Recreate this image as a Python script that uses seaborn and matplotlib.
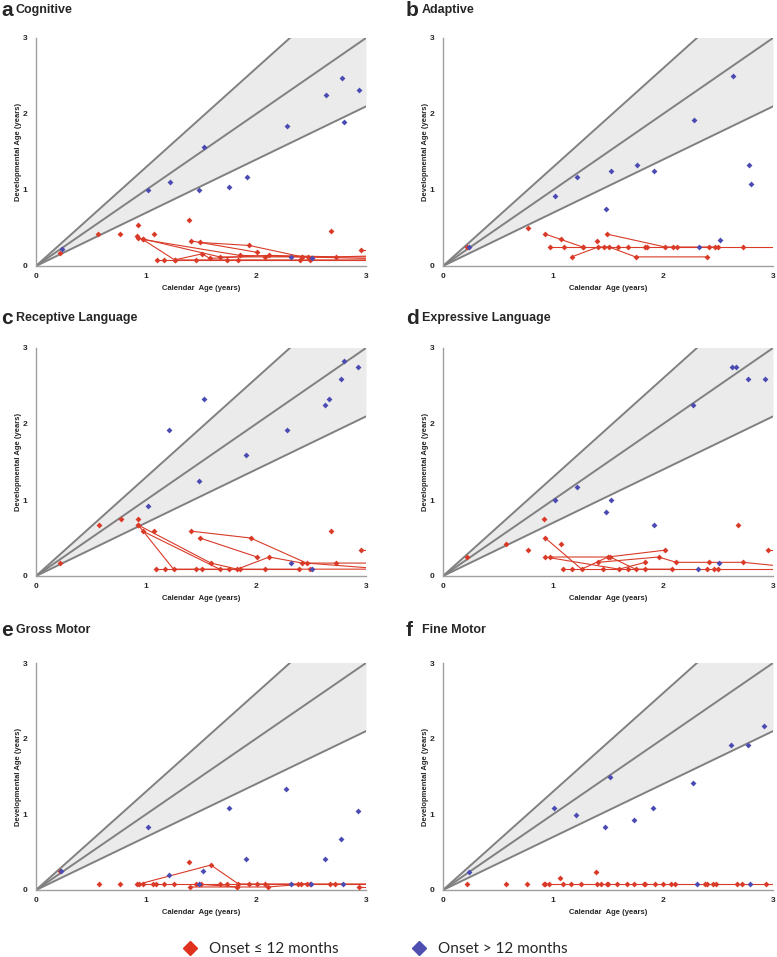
import numpy as np
import pandas as pd
import matplotlib
matplotlib.use("Agg")
import matplotlib.pyplot as plt
import seaborn as sns
from matplotlib.lines import Line2D

# Panel labels
letters = ["a", "b", "c", "d", "e", "f"]
titles = ["Cognitive", "Adaptive", "Receptive Language",
          "Expressive Language", "Gross Motor", "Fine Motor"]

# Onset <= 12 months: each path is one child followed over time (calendar age, developmental age)
cog_paths = [
    [(0.97, 0.35), (1.26, 0.08), (1.45, 0.08), (1.74, 0.08), (2.40, 0.08), (3.0, 0.08)],
    [(0.93, 0.37), (1.67, 0.12), (2.08, 0.12), (2.47, 0.12), (3.0, 0.12)],
    [(0.97, 0.35), (1.85, 0.14), (2.42, 0.12), (3.0, 0.10)],
    [(1.41, 0.33), (2.01, 0.18)],
    [(1.49, 0.31), (1.94, 0.27), (2.42, 0.12)],
    [(1.10, 0.08), (1.16, 0.08), (1.84, 0.08), (2.49, 0.08), (3.0, 0.08)],
    [(1.26, 0.08), (1.51, 0.16), (1.58, 0.10), (2.12, 0.14), (2.73, 0.12), (3.0, 0.13)],
    [(2.95, 0.21), (3.0, 0.21)],
]
cog_single = [(0.22, 0.17), (0.56, 0.42), (0.76, 0.42), (0.93, 0.54), (0.92, 0.39),
              (1.07, 0.42), (1.39, 0.60), (2.68, 0.46)]
cog_blue = [(0.24, 0.22), (1.02, 1.00), (1.22, 1.10), (1.48, 1.00), (1.53, 1.57),
            (1.75, 1.04), (1.92, 1.17), (2.28, 1.84), (2.32, 0.12), (2.51, 0.11),
            (2.64, 2.25), (2.78, 2.48), (2.80, 1.90), (2.94, 2.32)]

ada_paths = [
    [(0.97, 0.25), (1.10, 0.25), (1.27, 0.25), (1.46, 0.25), (1.59, 0.25), (1.68, 0.25),
     (1.84, 0.25), (2.09, 0.25), (2.42, 0.25), (2.73, 0.25), (3.0, 0.25)],
    [(0.93, 0.42), (1.07, 0.35), (1.27, 0.25)],
    [(1.49, 0.42), (2.02, 0.25), (2.13, 0.25), (2.50, 0.25)],
    [(1.17, 0.12), (1.41, 0.25), (1.51, 0.25), (1.75, 0.12), (2.40, 0.12)],
]
ada_single = [(0.22, 0.25), (0.77, 0.50), (1.40, 0.33), (1.85, 0.25), (2.47, 0.25)]
ada_blue = [(0.24, 0.25), (1.02, 0.92), (1.22, 1.17), (1.48, 0.75), (1.53, 1.25),
            (1.76, 1.33), (1.92, 1.25), (2.28, 1.92), (2.33, 0.25), (2.52, 0.34),
            (2.64, 2.50), (2.78, 1.33), (2.80, 1.08)]

rec_paths = [
    [(0.93, 0.67), (1.25, 0.09), (1.45, 0.09), (1.75, 0.09), (2.08, 0.09), (2.49, 0.09), (3.0, 0.09)],
    [(0.93, 0.67), (1.59, 0.17), (1.83, 0.09), (2.12, 0.25), (2.42, 0.17), (2.73, 0.17), (3.0, 0.17)],
    [(0.97, 0.59), (1.67, 0.09)],
    [(1.41, 0.59), (1.95, 0.50), (2.46, 0.17), (3.0, 0.11)],
    [(1.49, 0.50), (2.01, 0.25)],
    [(1.09, 0.09), (1.17, 0.09), (1.51, 0.09), (1.85, 0.09), (2.39, 0.09)],
    [(2.95, 0.34), (3.0, 0.34)],
]
rec_single = [(0.22, 0.17), (0.57, 0.67), (0.77, 0.75), (0.93, 0.75), (1.07, 0.59), (2.68, 0.59)]
rec_blue = [(1.02, 0.92), (1.21, 1.92), (1.48, 1.25), (1.53, 2.33), (1.91, 1.59),
            (2.28, 1.92), (2.32, 0.17), (2.51, 0.09), (2.63, 2.25), (2.66, 2.33),
            (2.77, 2.59), (2.80, 2.83), (2.93, 2.75)]

exp_paths = [
    [(0.93, 0.50), (1.26, 0.09), (1.50, 0.25), (2.02, 0.34)],
    [(0.93, 0.25), (1.60, 0.09), (1.84, 0.18)],
    [(0.97, 0.25), (1.52, 0.25), (1.75, 0.09), (2.08, 0.09)],
    [(1.09, 0.09), (1.17, 0.09), (1.45, 0.09), (1.68, 0.09), (1.84, 0.09),
     (2.40, 0.09), (2.50, 0.09), (3.0, 0.09)],
    [(1.41, 0.18), (1.96, 0.25), (2.12, 0.18), (2.42, 0.18), (2.73, 0.18), (3.0, 0.14)],
    [(2.95, 0.34), (3.0, 0.34)],
]
exp_single = [(0.22, 0.25), (0.57, 0.42), (0.77, 0.34), (0.92, 0.75), (1.07, 0.42),
              (2.46, 0.09), (2.68, 0.67)]
exp_blue = [(1.02, 1.00), (1.22, 1.17), (1.48, 0.84), (1.53, 1.00), (1.92, 0.67),
            (2.27, 2.25), (2.32, 0.09), (2.51, 0.17), (2.63, 2.75), (2.66, 2.75),
            (2.77, 2.59), (2.93, 2.59)]

gro_paths = [
    [(0.92, 0.08), (0.97, 0.08), (1.09, 0.08), (1.25, 0.08), (1.50, 0.08), (1.74, 0.08),
     (2.01, 0.08), (2.41, 0.08), (2.72, 0.08), (3.0, 0.08)],
    [(0.94, 0.08), (1.59, 0.33), (1.84, 0.08), (2.08, 0.08), (2.49, 0.08)],
    [(1.40, 0.04), (1.83, 0.04), (2.11, 0.04), (2.46, 0.08), (3.0, 0.08)],
    [(1.45, 0.08), (1.83, 0.04)],
    [(2.94, 0.04), (3.0, 0.04)],
]
gro_single = [(0.22, 0.25), (0.57, 0.08), (0.76, 0.08), (1.06, 0.08), (1.16, 0.08),
              (1.39, 0.37), (1.67, 0.08), (1.94, 0.08), (2.38, 0.08), (2.67, 0.08)]
gro_blue = [(0.23, 0.25), (1.02, 0.83), (1.21, 0.20), (1.48, 0.08), (1.52, 0.25),
            (1.75, 1.08), (1.91, 0.41), (2.27, 1.33), (2.32, 0.08), (2.50, 0.08),
            (2.63, 0.41), (2.77, 0.67), (2.79, 0.08), (2.93, 1.04)]

fin_paths = [
    [(0.92, 0.08), (0.93, 0.08), (0.96, 0.08), (1.09, 0.08), (1.16, 0.08), (1.25, 0.08),
     (1.40, 0.08), (1.44, 0.08), (1.49, 0.08), (1.50, 0.08), (1.58, 0.08), (1.67, 0.08),
     (1.74, 0.08), (1.83, 0.08), (1.84, 0.08), (1.93, 0.08), (2.00, 0.08), (2.07, 0.08),
     (2.11, 0.08), (2.38, 0.08), (2.40, 0.08), (2.45, 0.08), (2.48, 0.08), (2.67, 0.08),
     (2.72, 0.08), (2.94, 0.08), (3.0, 0.08)],
]
fin_single = [(0.22, 0.08), (0.57, 0.08), (0.76, 0.08), (1.06, 0.16), (1.39, 0.24)]
fin_blue = [(0.24, 0.24), (1.01, 1.08), (1.21, 0.99), (1.47, 0.83), (1.52, 1.50),
            (1.74, 0.92), (1.91, 1.08), (2.27, 1.42), (2.31, 0.08), (2.62, 1.92),
            (2.77, 1.92), (2.79, 0.08), (2.92, 2.17)]

all_paths = [cog_paths, ada_paths, rec_paths, exp_paths, gro_paths, fin_paths]
all_single = [cog_single, ada_single, rec_single, exp_single, gro_single, fin_single]
all_blue = [cog_blue, ada_blue, rec_blue, exp_blue, gro_blue, fin_blue]

# reference slopes: 70%, 100%, 130% of calendar age
slopes = [0.7, 1.0, 1.3]

red = "#d93b28"
blue = "#4a4cb3"

sns.set_style("white")
plt.rcParams["font.family"] = ["Liberation Sans", "DejaVu Sans"]

W, H = 777, 957
fig = plt.figure(figsize=(W / 100, H / 100), dpi=100)

col_left = [36, 443]
rows = [(38, 266), (348, 576), (663, 890)]
title_y = [10, 318, 630]
letter_x = [1, 406]
title_x = [16, 422]

for i in range(6):
    r, c = divmod(i, 2)
    top, bot = rows[r]
    ax = fig.add_axes([col_left[c] / W, 1 - bot / H, 330 / W, (bot - top) / H])

    xs = np.linspace(0, 3, 50)
    ax.fill_between(xs, slopes[0] * xs, slopes[2] * xs, color="#ebebeb", lw=0, zorder=0)
    for k in slopes:
        ax.plot(xs, k * xs, color="#808080", lw=1.4, zorder=1)

    rows_df = []
    for pid, path in enumerate(all_paths[i]):
        for x, y in path:
            rows_df.append({"pid": pid, "x": x, "y": y})
    paths_df = pd.DataFrame(rows_df)
    sns.lineplot(data=paths_df, x="x", y="y", units="pid", estimator=None, sort=False,
                 color=red, lw=0.8, ax=ax, legend=False, zorder=2)

    pts = paths_df[paths_df["x"] < 3.0][["x", "y"]]
    single = pd.DataFrame(all_single[i], columns=["x", "y"])
    red_df = pd.concat([pts, single], ignore_index=True)
    sns.scatterplot(data=red_df, x="x", y="y", marker="D", s=9, color=red,
                    edgecolor=red, linewidth=0, ax=ax, zorder=3)

    blue_df = pd.DataFrame(all_blue[i], columns=["x", "y"])
    sns.scatterplot(data=blue_df, x="x", y="y", marker="D", s=9, color=blue,
                    edgecolor=blue, linewidth=0, ax=ax, zorder=4)

    ax.set_xlim(0, 3)
    ax.set_ylim(0, 3)
    ax.set_xticks([0, 1, 2, 3])
    ax.set_yticks([0, 1, 2, 3])
    ax.set_xticklabels(["0", "1", "2", "3"], fontsize=6, fontweight="bold")
    ax.set_yticklabels(["0", "1", "2", "3"], fontsize=6, fontweight="bold")
    ax.tick_params(axis="x", direction="in", length=3, color="#a0a0a0", pad=5)
    ax.tick_params(axis="y", length=0, pad=6)
    ax.set_xlabel("Calendar  Age (years)", fontsize=5.5, fontweight="bold", labelpad=4)
    ax.set_ylabel("Developmental Age (years)", fontsize=5.5, fontweight="bold", labelpad=1)
    for s in ["top", "right"]:
        ax.spines[s].set_visible(False)
    for s in ["left", "bottom"]:
        ax.spines[s].set_color("#a0a0a0")
        ax.spines[s].set_linewidth(1.0)
    ax.set_facecolor("white")

    fig.text(letter_x[c] / W, 1 - title_y[r] / H, letters[i], fontsize=15,
             fontweight="bold", va="center", ha="left")
    fig.text(title_x[c] / W, 1 - title_y[r] / H, titles[i], fontsize=9,
             fontweight="bold", va="center", ha="left")

handles = [
    Line2D([], [], marker="D", ls="", color="#e0301e", markersize=7),
    Line2D([], [], marker="D", ls="", color="#4e4fb0", markersize=7),
]
fig.legend(handles, ["Onset \u2264 12 months", "Onset > 12 months"], loc="center",
           bbox_to_anchor=(375 / W, 1 - 949 / H), ncol=2, frameon=False,
           columnspacing=4.8, handletextpad=0.75, handlelength=1.0,
           prop={"family": ["Lato", "DejaVu Sans"], "size": 11})

fig.savefig("out.png", dpi=100)
